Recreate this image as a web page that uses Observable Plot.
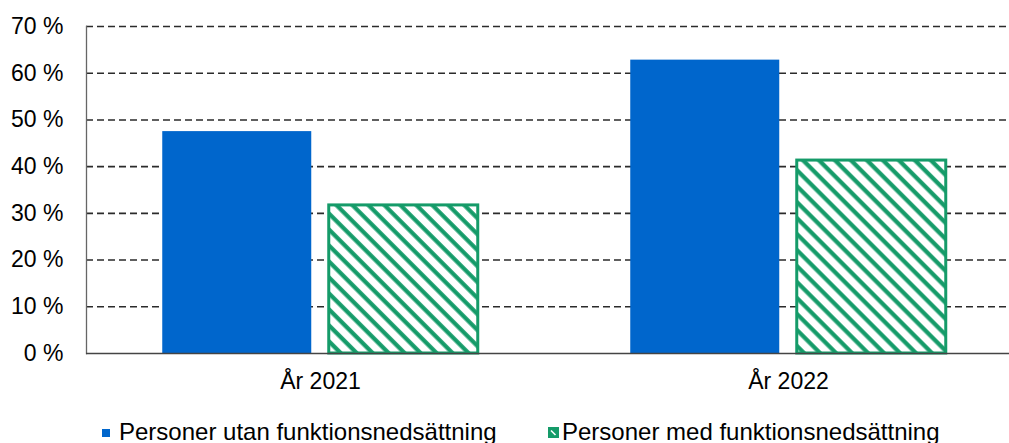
<!DOCTYPE html>
<html>
<head>
<meta charset="utf-8">
<script src="https://cdn.jsdelivr.net/npm/d3@7"></script>
<script src="https://cdn.jsdelivr.net/npm/@observablehq/plot@0.6"></script>
<style>
  html, body { margin: 0; padding: 0; background: #fff; overflow: hidden; }
  body { font-family: "Liberation Sans", Arial, sans-serif; width: 1009px; height: 443px; }
  #chart svg { display: block; }
  #legend { position: relative; width: 1009px; height: 33px; }
  #legend .sw { position: absolute; display: block; }
  #legend .lbl { position: absolute; font-size: 24px; line-height: 24px; color: #000; white-space: nowrap; }
</style>
</head>
<body>
<div id="chart"></div>
<div id="legend"></div>
<script>
// ---- data ----
const years = ["År 2021", "År 2022"];
const seriesNames = ["Personer utan funktionsnedsättning", "Personer med funktionsnedsättning"];
const utanValues = [47.5, 62.8];
const medValues = [31.7, 41.3];
const yTicks = [0, 10, 20, 30, 40, 50, 60, 70];
const yTickLabels = ["0 %", "10 %", "20 %", "30 %", "40 %", "50 %", "60 %", "70 %"];

// ---- styles ----
const blue = "#0066CC";
const green = "#159B69";

const utanRows = years.map((y, i) => ({year: y, value: utanValues[i]}));
const medRows = years.map((y, i) => ({year: y, value: medValues[i]}));
const labelOf = new Map(yTicks.map((t, i) => [t, yTickLabels[i]]));

const chart = Plot.plot({
  width: 1009,
  height: 410,
  marginLeft: 86,
  marginRight: 0,
  marginTop: 26,
  marginBottom: 57,
  style: {fontFamily: "'Liberation Sans', Arial, sans-serif", fontSize: "23px", color: "#000", background: "#fff"},
  x: {domain: years, range: [85.75, 1021.75], padding: 0, label: null},
  y: {domain: [0, 70], label: null},
  marks: [
    Plot.ruleY(yTicks.filter(t => t > 0), {stroke: "#2b2b2b", strokeWidth: 1.6, strokeDasharray: "7,4"}),
    Plot.barY(utanRows, {x: "year", y: "value", fill: blue, insetLeft: 76.25, insetRight: 242.75}),
    Plot.barY(medRows, {x: "year", y: "value", fill: "url(#hatch)", stroke: green, strokeWidth: 3, insetLeft: 242.75, insetRight: 76.25}),
    Plot.frame({anchor: "left", stroke: "#666", strokeWidth: 1.3}),
    Plot.ruleY([0], {stroke: "#444", strokeWidth: 1.5}),
    Plot.axisY({ticks: yTicks, tickFormat: d => labelOf.get(d), tickSize: 0, tickPadding: 23, fontSize: 23, label: null}),
    Plot.axisX({tickSize: 0, tickPadding: 19, fontSize: 23, label: null})
  ]
});

// hatch pattern for the "med" series
const svg = d3.select(chart);
const defs = svg.insert("defs", ":first-child");
const pat = defs.append("pattern")
  .attr("id", "hatch")
  .attr("patternUnits", "userSpaceOnUse")
  .attr("width", 11.3)
  .attr("height", 11.3)
  .attr("patternTransform", "rotate(-45)");
pat.append("rect").attr("width", 11.3).attr("height", 11.3).attr("fill", "#fff");
pat.append("line").attr("x1", 2.5).attr("x2", 2.5).attr("y1", -1).attr("y2", 12.3)
  .attr("stroke", green).attr("stroke-width", 4.2);

document.getElementById("chart").appendChild(chart);

// legend
const legend = d3.select("#legend");
legend.append("div").attr("class", "sw")
  .style("left", "102px").style("top", "19px").style("width", "8px").style("height", "8px")
  .style("background", blue);
legend.append("div").attr("class", "lbl").style("left", "119px").style("top", "10px").text(seriesNames[0]);
const sw2 = legend.append("svg").attr("class", "sw")
  .style("left", "548px").style("top", "17px").attr("width", 11).attr("height", 11);
sw2.append("rect").attr("width", 11).attr("height", 11).attr("fill", green);
sw2.append("path").attr("d", "M3,3.5 L7.5,8").attr("stroke", "#fff").attr("stroke-width", 1.6);
legend.append("div").attr("class", "lbl").style("left", "562px").style("top", "10px").text(seriesNames[1]);
</script>
</body>
</html>
